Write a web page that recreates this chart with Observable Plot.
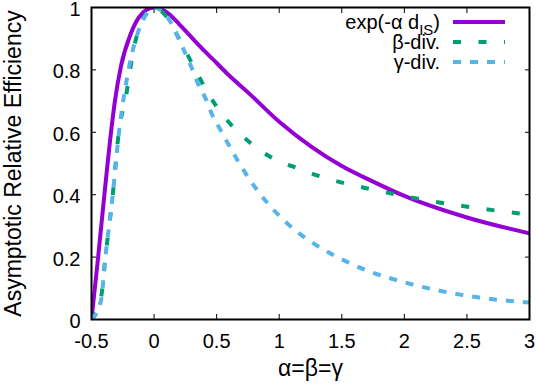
<!DOCTYPE html>
<html>
<head>
<meta charset="utf-8">
<script src="https://cdn.jsdelivr.net/npm/d3@7"></script>
<script src="https://cdn.jsdelivr.net/npm/@observablehq/plot@0.6"></script>
<style>
  html, body { margin: 0; padding: 0; background: white; }
</style>
</head>
<body>
<div id="chart"></div>
<script>
// ---- data ----
const expAlpha = [-0.5, -0.447, -0.397, -0.344, -0.313, -0.266, -0.186, -0.12, -0.06, 0, 0.1, 0.2, 0.3, 0.4, 0.5, 0.6, 0.75, 1.0, 1.25, 1.5, 1.75, 2.0, 2.5, 3];
const expValue = [0, 0.2, 0.4, 0.6, 0.7, 0.809, 0.916, 0.969, 0.993, 1, 0.985, 0.947, 0.904, 0.862, 0.822, 0.782, 0.728, 0.634, 0.556, 0.492, 0.442, 0.396, 0.327, 0.276];

const betaAlpha = [-0.5, -0.424, -0.389, -0.33, -0.282, -0.226, -0.16, -0.08, 0, 0.1, 0.2, 0.333, 0.427, 0.533, 0.747, 0.933, 1.16, 1.347, 1.539, 1.72, 1.907, 2.267, 2.64, 3];
const betaValue = [0, 0.07, 0.2, 0.4, 0.6, 0.712, 0.873, 0.969, 1, 0.97, 0.9, 0.798, 0.728, 0.664, 0.574, 0.52, 0.483, 0.456, 0.435, 0.419, 0.403, 0.376, 0.354, 0.336];

const gammaAlpha = [-0.5, -0.424, -0.389, -0.33, -0.283, -0.205, -0.114, -0.05, 0, 0.107, 0.227, 0.293, 0.347, 0.413, 0.467, 0.533, 0.667, 0.827, 0.947, 1.067, 1.32, 1.547, 1.72, 1.84, 2.213, 2.587, 3];
const gammaValue = [0, 0.061, 0.2, 0.4, 0.59, 0.798, 0.937, 0.985, 1, 0.969, 0.873, 0.814, 0.76, 0.707, 0.654, 0.606, 0.51, 0.413, 0.355, 0.307, 0.232, 0.184, 0.154, 0.138, 0.098, 0.071, 0.054];

const xTicks = [-0.5, 0, 0.5, 1, 1.5, 2, 2.5, 3];
const yTicks = [0, 0.2, 0.4, 0.6, 0.8, 1];

const seriesNames = ["exp(-α d", "β-div.", "γ-div."];
const seriesColors = ["#9400d3", "#009e73", "#56b4e9"];
const seriesDashes = [null, "8,17.5", "8,9"];

const xLabel = "α=β=γ";
const yLabel = "Asymptotic Relative Efficiency";

// ---- build tables ----
const toRows = (xs, ys) => xs.map((x, i) => ({x, y: ys[i]}));
const tables = [toRows(expAlpha, expValue), toRows(betaAlpha, betaValue), toRows(gammaAlpha, gammaValue)];

const font = "'Liberation Sans', Arial, Helvetica, sans-serif";
const fmt = d => String(d);

const plot = Plot.plot({
  width: 536,
  height: 384,
  marginLeft: 91,
  marginRight: 7,
  marginTop: 7,
  marginBottom: 65,
  style: {fontFamily: font, fontSize: "20px", background: "white", color: "black"},
  x: {domain: [-0.5, 3]},
  y: {domain: [0, 1]},
  marks: [
    // tick labels
    Plot.axisX({ticks: xTicks, tickFormat: fmt, tickSize: 0, tickPadding: 14, fontSize: 20,
                label: xLabel, labelAnchor: "center", labelArrow: "none", labelOffset: 56}),
    Plot.axisY({ticks: yTicks, tickFormat: fmt, tickSize: 0, tickPadding: 11, fontSize: 20, dy: 2,
                label: null}),
    Plot.axisY({ticks: yTicks, tickFormat: () => "", tickSize: 0,
                label: yLabel, labelAnchor: "center", labelArrow: "none", labelOffset: 87}),
    // inward ticks on all four sides
    Plot.axisX({anchor: "bottom", ticks: xTicks, tickSize: 5, dy: -5, tickFormat: () => "", label: null}),
    Plot.axisX({anchor: "top", ticks: xTicks, tickSize: 5, dy: 5, tickFormat: () => "", label: null}),
    Plot.axisY({anchor: "left", ticks: yTicks, tickSize: 5, dx: 5, tickFormat: () => "", label: null}),
    Plot.axisY({anchor: "right", ticks: yTicks, tickSize: 5, dx: -5, tickFormat: () => "", label: null}),
    ...tables.map((t, i) => Plot.line(t, {
      x: "x", y: "y",
      stroke: seriesColors[i],
      strokeWidth: 4,
      strokeDasharray: seriesDashes[i],
      strokeLinecap: "butt",
      curve: "monotone-x",
      clip: true
    })),
    Plot.frame({stroke: "black", strokeWidth: 2})
  ]
});

document.getElementById("chart").appendChild(plot);

// axis label sizes
const svg = d3.select(plot);
svg.selectAll('[aria-label="x-axis label"] text, [aria-label="y-axis label"] text').attr("font-size", 23);

// ---- legend (top right, gnuplot style) ----
const legend = svg.append("g").attr("font-family", font).attr("font-size", 20).attr("fill", "black");
seriesNames.forEach((name, i) => {
  const yy = 22 + 20 * i;
  legend.append("line")
    .attr("x1", 453).attr("x2", 505).attr("y1", yy).attr("y2", yy)
    .attr("stroke", seriesColors[i]).attr("stroke-width", 4)
    .attr("stroke-dasharray", seriesDashes[i]);
  const t = legend.append("text").attr("x", 440).attr("y", yy + 6.5).attr("text-anchor", "end");
  t.append("tspan").text(name);
  if (i === 0) {
    t.append("tspan").attr("font-size", 15).attr("dy", 6).text("IS");
    t.append("tspan").attr("dy", -6).text(")");
  }
});
</script>
</body>
</html>
